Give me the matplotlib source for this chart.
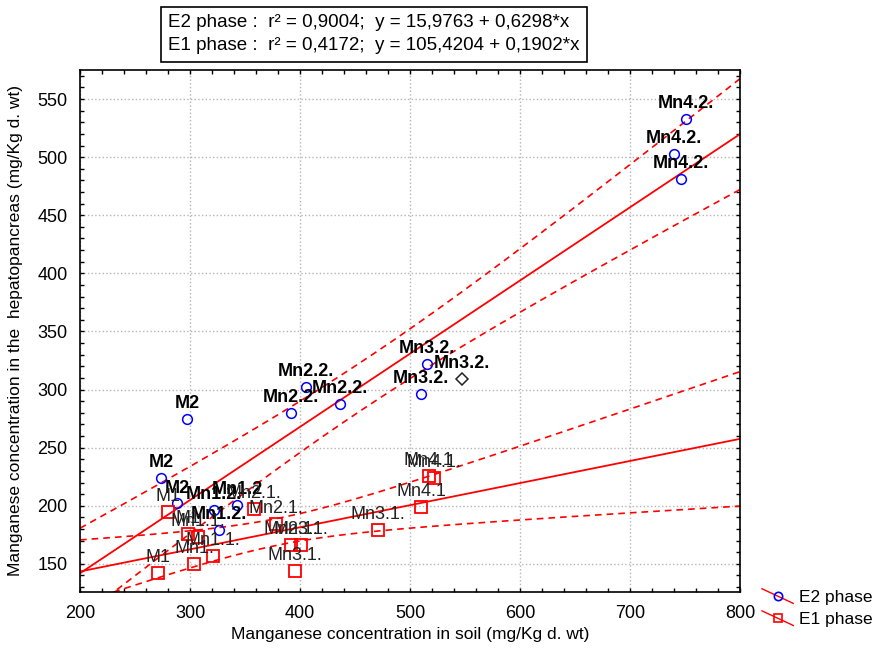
import numpy as np
import matplotlib
matplotlib.use('Agg')
from matplotlib import pyplot as plt
from matplotlib.lines import Line2D
from matplotlib.legend_handler import HandlerBase
from matplotlib.ticker import MultipleLocator

plt.rcParams['font.family'] = ['Liberation Sans', 'DejaVu Sans']

# E2 phase (blue circles)
e2_soil = np.array([297.5, 273.6, 288.5, 322, 343, 326.6, 405, 392, 436.6,
                    515, 510, 547, 750.5, 740, 746])
e2_hep = np.array([275, 223.7, 202, 196.7, 200.7, 179, 302, 280, 287.5,
                   322, 296, 309.5, 533, 503, 481])
e2_labels = ['M2', 'M2', 'M2', 'Mn1.2.', 'Mn1.2', 'Mn1.2.', 'Mn2.2.', 'Mn2.2.',
             'Mn2.2.', 'Mn3.2.', 'Mn3.2.', 'Mn3.2.', 'Mn4.2.', 'Mn4.2.', 'Mn4.2.']
e2_odd = 11  # the one drawn as a black diamond

# E1 phase (red squares)
e1_soil = np.array([280, 298, 271, 307, 320.6, 304, 358.5, 378, 391.5,
                    400.6, 395, 471, 517, 522, 510])
e1_hep = np.array([194.4, 176, 142, 173, 156.5, 150, 197, 184, 166,
                   166, 144, 179, 226, 224, 198.7])
e1_labels = ['M1', 'M1', 'M1', 'Mn1.1.', 'Mn1.1.', 'Mn1.', 'Mn2.1.', 'Mn2.1.',
             'Mn2.1.', 'Mn3.1.', 'Mn3.1.', 'Mn3.1.', 'Mn4.1', 'Mn4.1.', 'Mn4.1']

# regression coefficients printed on the chart
e2_fit = (15.9763, 0.6298, 0.9004)
e1_fit = (105.4204, 0.1902, 0.4172)
t_crit = 2.1604  # t(0.975, 13)


def band(x, y, b0, b1, xs):
    n = len(x)
    res = y - (b0 + b1 * x)
    s = np.sqrt(np.sum(res ** 2) / (n - 2))
    xm = x.mean()
    sxx = np.sum((x - xm) ** 2)
    return t_crit * s * np.sqrt(1.0 / n + (xs - xm) ** 2 / sxx)


def comma(v):
    return f'{v:.4f}'.replace('.', ',')


class DiagHandler(HandlerBase):
    def create_artists(self, legend, orig, xd, yd, w, h, fontsize, trans):
        ln = Line2D([xd, xd + w], [yd + h * 1.1, yd - h * 0.1], color='red', lw=1)
        mk = Line2D([xd + w / 2], [yd + h / 2], ls='none', marker=orig.get_marker(),
                    mec=orig.get_markeredgecolor(), mfc='none', ms=6, mew=1.2)
        ln.set_transform(trans)
        mk.set_transform(trans)
        return [ln, mk]


fig = plt.figure(figsize=(8.76, 6.57), dpi=100)
ax = fig.add_axes([80 / 876, 1 - 592 / 657, 660 / 876, 522 / 657])

xs = np.linspace(200, 800, 200)
for fit, sx, sy in ((e2_fit, e2_soil, e2_hep), (e1_fit, e1_soil, e1_hep)):
    b0, b1, r2 = fit
    yl = b0 + b1 * xs
    hw = band(sx, sy, b0, b1, xs)
    ax.plot(xs, yl, color='red', lw=1.3, zorder=2)
    ax.plot(xs, yl + hw, color='red', lw=1.2, ls=(0, (4, 3)), zorder=2)
    ax.plot(xs, yl - hw, color='red', lw=1.2, ls=(0, (4, 3)), zorder=2)

keep = np.arange(len(e2_soil)) != e2_odd
ax.plot(e2_soil[keep], e2_hep[keep], 'o', mfc='none', mec='#0000ff', ms=7, mew=1.1, zorder=3)
ax.plot(e2_soil[e2_odd], e2_hep[e2_odd], 'D', mfc='none', mec='#222222', ms=6, mew=1.1, zorder=3)
ax.plot(e1_soil, e1_hep, 's', mfc='none', mec='#ff0000', ms=8, mew=1.3, zorder=3)

for x, y, s in zip(e2_soil, e2_hep, e2_labels):
    ax.annotate(s, (x, y), xytext=(0, 5), textcoords='offset points', ha='center',
                va='bottom', fontsize=13, fontweight='bold', color='black', zorder=4)
for x, y, s in zip(e1_soil, e1_hep, e1_labels):
    ax.annotate(s, (x, y), xytext=(0, 5), textcoords='offset points', ha='center',
                va='bottom', fontsize=13, color='#222222', zorder=4)

ax.set_xlim(200, 800)
ax.set_ylim(125.8, 575)
ax.xaxis.set_major_locator(MultipleLocator(100))
ax.xaxis.set_minor_locator(MultipleLocator(20))
ax.yaxis.set_major_locator(MultipleLocator(50))
ax.yaxis.set_minor_locator(MultipleLocator(10))
ax.tick_params(which='both', direction='in', top=True, right=True, length=3,
               width=1, labelsize=13, pad=9)
ax.grid(True, which='major', ls=':', color='#b5b5b5', lw=1)
for sp in ax.spines.values():
    sp.set_linewidth(1.2)

fig.text(0.468, 1 - 634 / 657, 'Manganese concentration in soil (mg/Kg d. wt)',
         ha='center', va='center', fontsize=12.5)
fig.text(0.018, 1 - 331 / 657, 'Manganese concentration in the  hepatopancreas (mg/Kg d. wt)',
         ha='center', va='center', rotation=90, fontsize=12.5)

box = (f'E2 phase :  r² = {comma(e2_fit[2])};  y = {comma(e2_fit[0])} + {comma(e2_fit[1])}*x\n'
       f'E1 phase :  r² = {comma(e1_fit[2])};  y = {comma(e1_fit[0])} + {comma(e1_fit[1])}*x')
fig.text(168 / 876, 1 - 14 / 657, box, ha='left', va='top', fontsize=13.5, linespacing=1.5,
         bbox=dict(boxstyle='square,pad=0.4', fc='white', ec='black', lw=1.2))

h2 = Line2D([], [], marker='o', mec='#0000ff', color='red')
h1 = Line2D([], [], marker='s', mec='#ff0000', color='red')
fig.legend([h2, h1], ['E2 phase', 'E1 phase'], loc='upper left',
           bbox_to_anchor=(762 / 876, 1 - 590 / 657), frameon=False, fontsize=12.5,
           handler_map={Line2D: DiagHandler()}, handlelength=1.8, handletextpad=0.35,
           labelspacing=0.4, borderpad=0, borderaxespad=0)

fig.savefig('out.png', dpi=100)
